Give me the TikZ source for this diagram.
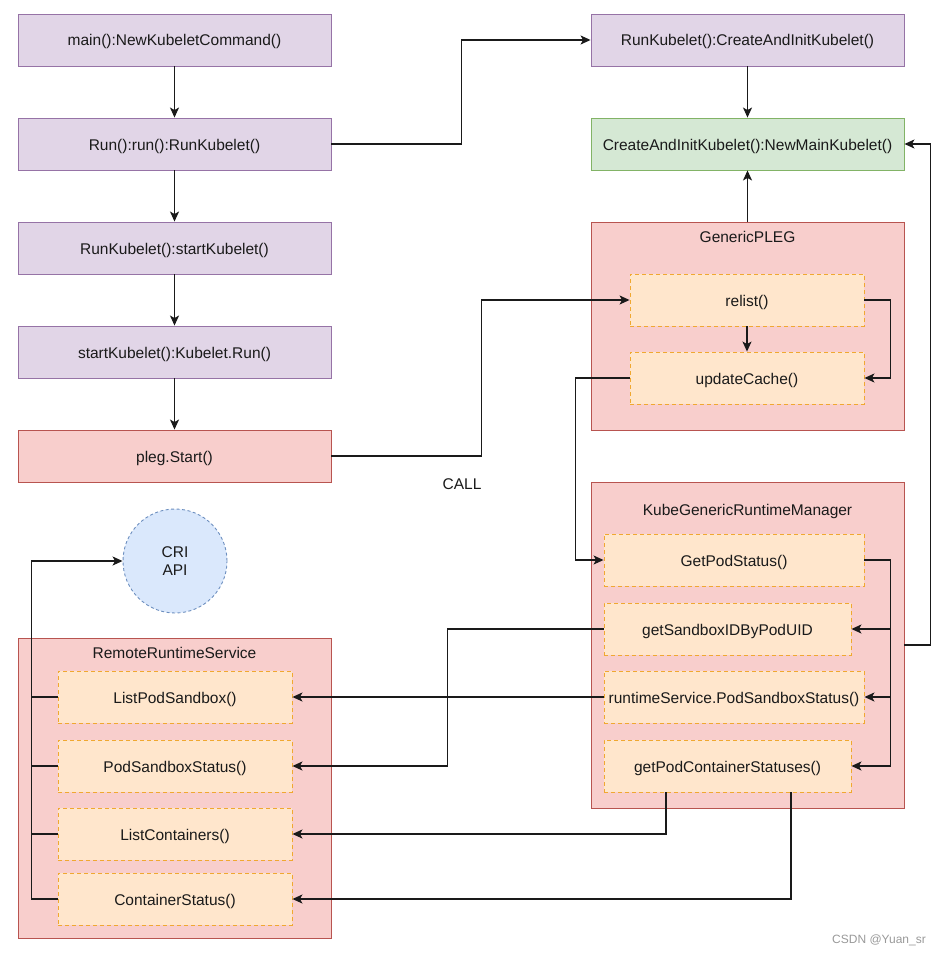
\documentclass[tikz,border=0pt]{standalone}
\usepackage{fontspec}
\setmainfont{Liberation Sans}
\usetikzlibrary{arrows.meta,positioning,calc}
\definecolor{purpF}{HTML}{E1D5E7}
\definecolor{purpD}{HTML}{9673A6}
\definecolor{greenF}{HTML}{D5E8D4}
\definecolor{greenD}{HTML}{82B366}
\definecolor{redF}{HTML}{F8CECC}
\definecolor{redD}{HTML}{B85450}
\definecolor{oranF}{HTML}{FFE6CC}
\definecolor{oranD}{HTML}{F0A830}
\definecolor{blueF}{HTML}{DAE8FC}
\definecolor{blueD}{HTML}{6C8EBF}
\definecolor{lineC}{HTML}{1A1A1A}
\definecolor{txtC}{HTML}{1A1A1A}
\tikzset{
  base/.style={font=\fontsize{15.5}{18}\selectfont, text=txtC, inner sep=0pt, line width=0.9pt},
  tx/.style={text height=12pt, text depth=0pt},
  purp/.style={base, tx, draw=purpD, fill=purpF, minimum width=313pt, minimum height=52pt},
  grn/.style={base, tx, draw=greenD, fill=greenF, minimum width=313pt, minimum height=52pt},
  redbox/.style={base, tx, draw=redD, fill=redF},
  orbox/.style={base, tx, draw=oranD, fill=oranF, dashed, dash pattern=on 4pt off 3pt, minimum height=52pt},
  ttl/.style={font=\fontsize{15.5}{18}\selectfont, text=txtC, inner sep=0pt, tx},
  conn/.style={draw=lineC, line width=1.3pt},
  arr/.style={conn, -{Stealth[length=10pt,width=9pt,inset=2.5pt]}},
}
\begin{document}
\begin{tikzpicture}[x=1pt,y=-1pt]
\useasboundingbox (0,0) rectangle (942,955);
% left column
\node[purp] (main) at (174.5,40) {main():NewKubeletCommand()};
\node[purp] (run) at (174.5,144) {Run():run():RunKubelet()};
\node[purp] (rsk) at (174.5,248) {RunKubelet():startKubelet()};
\node[purp] (skr) at (174.5,352) {startKubelet():Kubelet.Run()};
\node[redbox, minimum width=313pt, minimum height=52pt] (pleg) at (174.5,456) {pleg.Start()};
% right top
\node[purp] (crk) at (747.5,40) {RunKubelet():CreateAndInitKubelet()};
\node[grn] (nmk) at (747.5,144) {CreateAndInitKubelet():NewMainKubelet()};
% GenericPLEG
\node[redbox, minimum width=313pt, minimum height=208pt] (gpleg) at (747.5,326) {};
\node[ttl] (gplegt) at (747.5,236) {GenericPLEG};
\node[orbox, minimum width=234pt] (relist) at (747,300) {relist()};
\node[orbox, minimum width=234pt] (upd) at (747,378) {updateCache()};
% KubeGenericRuntimeManager
\node[redbox, minimum width=313pt, minimum height=326pt] (kgrm) at (747.5,645) {};
\node[ttl] (kgrmt) at (747.5,509) {KubeGenericRuntimeManager};
\node[orbox, minimum width=260pt] (gps) at (734,560) {GetPodStatus()};
\node[orbox, minimum width=247pt] (gsb) at (727.5,629) {getSandboxIDByPodUID};
\node[orbox, minimum width=260pt] (rss) at (734,697) {runtimeService.PodSandboxStatus()};
\node[orbox, minimum width=247pt] (gpcs) at (727.5,766) {getPodContainerStatuses()};
% RemoteRuntimeService
\node[redbox, minimum width=313pt, minimum height=300pt] (rrs) at (174.5,788) {};
\node[ttl] (rrst) at (174.5,652) {RemoteRuntimeService};
\node[orbox, minimum width=234pt] (lps) at (175,697) {ListPodSandbox()};
\node[orbox, minimum width=234pt] (pss) at (175,766) {PodSandboxStatus()};
\node[orbox, minimum width=234pt] (lc) at (175,834) {ListContainers()};
\node[orbox, minimum width=234pt] (cs) at (175,899) {ContainerStatus()};
% CRI
\node[base, circle, draw=blueD, fill=blueF, dashed, dash pattern=on 3pt off 2.5pt, minimum size=104pt, align=center] (cri) at (175,561) {CRI\\API};
% labels
\node[ttl] (call) at (462,483) {CALL};
\node[font=\fontsize{12}{14}\selectfont, text=black!40, inner sep=0pt] (wm) at (879,940) {CSDN @Yuan\_sr};
% connectors
\draw[arr] (main) -- (run);
\draw[arr] (run) -- (rsk);
\draw[arr] (rsk) -- (skr);
\draw[arr] (skr) -- (pleg);
\draw[arr] (run.east) -- ++(130,0) |- (crk.west);
\draw[arr] (crk) -- (nmk);
\draw[arr] (gpleg.north) -- (nmk.south);
\draw[arr] (pleg.east) -- ++(150,0) |- (relist.west);
\draw[arr] (relist) -- (upd);
\draw[arr] (relist.east) -- ++(26,0) |- (upd.east);
\draw[arr] (upd.west) -- ++(-54,0) |- (gps.west);
\draw[arr] (gps.east) -- ++(26,0) |- (gsb.east);
\draw[arr] (gps.east) -- ++(26,0) |- (rss.east);
\draw[arr] (gps.east) -- ++(26,0) |- (gpcs.east);
\draw[arr] (kgrm.east) -- ++(26,0) |- (nmk.east);
\draw[arr] (gsb.west) -- ++(-156,0) |- (pss.east);
\draw[arr] (rss.west) -- (lps.east);
\draw[arr] ([xshift=-61.5pt]gpcs.south) |- (lc.east);
\draw[arr] ([xshift=63.5pt]gpcs.south) |- (cs.east);
\draw[conn] (lps.west) -- ++(-26,0);
\draw[conn] (pss.west) -- ++(-26,0);
\draw[conn] (lc.west) -- ++(-26,0);
\draw[arr] (cs.west) -- ++(-26,0) |- (cri.west);
\end{tikzpicture}
\end{document}
